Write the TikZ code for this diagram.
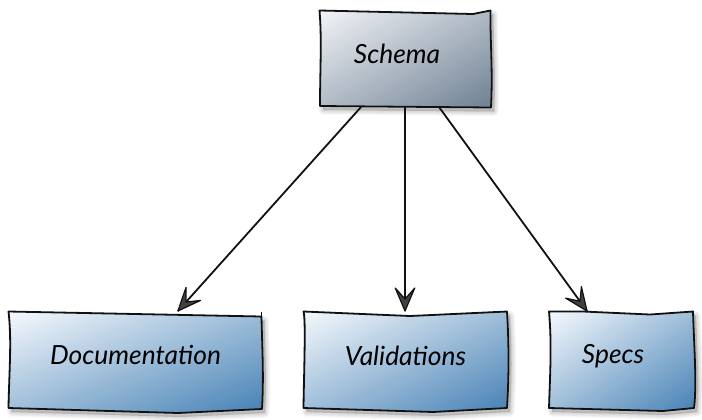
\documentclass[tikz,border=0pt]{standalone}
\usepackage{fontspec}
\setmainfont{Lato}
\usetikzlibrary{calc}
\definecolor{greyA}{HTML}{F2F4F7}
\definecolor{greyB}{HTML}{6E8093}
\definecolor{blueA}{HTML}{F6F9FD}
\definecolor{blueB}{HTML}{4581B5}
\definecolor{inkc}{HTML}{111111}
\tikzset{
  x=1bp,y=-1bp,
  boxanchor/.style={rectangle,inner sep=0pt,outer sep=0pt,anchor=north west},
  boxtext/.style={font=\fontsize{26.5}{30}\selectfont\itshape,text=black,inner sep=0pt},
  sketchline/.style={draw=inkc,line width=1.8bp,line join=round},
  link/.style={draw=inkc,line width=1.8bp},
  headshape/.style={draw=inkc,fill=inkc!80,line width=1.2bp,line join=round},
}
\newcommand{\softshadow}[1]{%
  \begin{scope}[shift={(3,4)}]
    \foreach \w in {9,7,5,3,1}{\path[draw=black,fill=black,draw opacity=.035,fill opacity=.035,line width=\w bp,line join=round] #1;}
  \end{scope}}
% #1 light, #2 dark, #3 x0, #4 y0, #5 w, #6 h, #7 outline
\newcommand{\sketchbox}[7]{%
  \softshadow{#7}%
  \begin{scope}
    \clip #7;
    \begin{scope}[shift={(#3,#4)},xscale=#5,yscale=#6]
      \foreach \i in {0,...,64}{%
        \pgfmathsetmacro{\tt}{\i/64}%
        \pgfmathsetmacro{\pc}{100*\tt}%
        \fill[color=#2!\pc!#1] ({2*\tt+1},-1) -- (4,-1) -- (4,4) -- (-1,4) -- (-1,{2*\tt+1}) -- cycle;
      }
    \end{scope}
  \end{scope}
  \path[sketchline] #7;}
\newcommand{\headat}[2]{%
  \path[headshape] let \p1=($(#2)-(#1)$), \n1={atan2(\y1,\x1)+180} in
    (#2) -- ($(#2)+(\n1+23:25bp)$) -- ($(#2)+(\n1:12bp)$) -- ($(#2)+(\n1-23:25bp)$) -- cycle;}
\begin{document}
\begin{tikzpicture}
\useasboundingbox (0,0) rectangle (702,419);
\sketchbox{greyA}{greyB}{320}{10}{171}{98}{(319.5,10.5) .. controls (322,40) and (320,70) .. (320,106) -- (491,107.5) .. controls (493,70) and (490,40) .. (490.5,10.5) -- (473,14) -- cycle}
\sketchbox{blueA}{blueB}{8}{311}{255}{102}{(8.5,311.5) .. controls (12,340) and (9,375) .. (8.5,408) -- (178,413) -- (262,409) .. controls (264,375) and (262,345) .. (261.5,316.5) -- cycle}
\path[sketchline] (261.5,316.5) -- (261.5,312);
\sketchbox{blueA}{blueB}{303}{311}{205}{101}{(303.5,311.5) .. controls (306,320) and (304,370) .. (303.5,408) -- (433,412) -- (507,408) .. controls (509,375) and (509,345) .. (507,311.5) -- (410,316) -- cycle}
\sketchbox{blueA}{blueB}{549}{311}{147}{100}{(549,311.5) .. controls (552,345) and (550,375) .. (549,408) -- (663,411) -- (694,408) .. controls (697,385) and (694,345) .. (693,311.5) -- (650,314.5) -- (583,311.5) -- cycle}

\node[boxanchor,minimum width=171bp,minimum height=97bp] (schema) at (320,10) {};
\node[boxanchor,minimum width=254bp,minimum height=100bp] (doc) at (8,311) {};
\node[boxanchor,minimum width=204bp,minimum height=100bp] (valid) at (303,311) {};
\node[boxanchor,minimum width=144bp,minimum height=100bp] (specs) at (549,311) {};

\node[boxtext] (schematext) at (397,54) {Schema};
\node[boxtext] (doctext) at (135.5,355) {Documentation};
\node[boxtext] (validtext) at (405.5,356) {Validations};
\node[boxtext] (specstext) at (613,356) {Specs};

\coordinate (fromA) at ($(schema.south west)!0.24!(schema.south east)$);
\coordinate (toA) at ($(doc.north west)!0.669!(doc.north east)$);
\coordinate (fromB) at ($(schema.south west)!0.497!(schema.south east)$);
\coordinate (toB) at ($(valid.north west)!0.5!(valid.north east)$);
\coordinate (fromC) at ($(schema.south west)!0.696!(schema.south east)$);
\coordinate (toC) at ($(specs.north west)!0.264!(specs.north east)$);
\draw[link] (fromA) -- (toA);
\draw[link] (fromB) -- (toB);
\draw[link] (fromC) -- (toC);
\headat{fromA}{toA}
\headat{fromB}{toB}
\headat{fromC}{toC}
\end{tikzpicture}
\end{document}
